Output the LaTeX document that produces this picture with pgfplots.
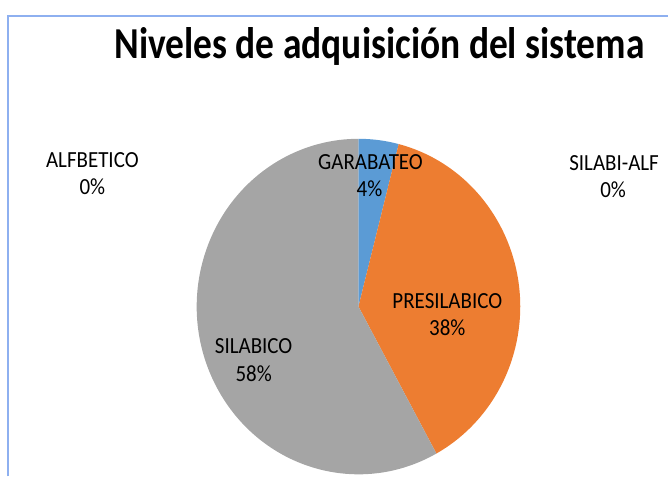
\documentclass[border=0pt]{standalone}
\usepackage{fontspec}
\setmainfont{Carlito}
\usepackage{graphicx}
\usepackage{pgfplots}
\pgfplotsset{compat=1.18}
\definecolor{cgar}{HTML}{5B9BD5}
\definecolor{cpre}{HTML}{ED7D31}
\definecolor{csil}{HTML}{A5A5A5}
\definecolor{cframe}{HTML}{8EB0F0}
% slice: colour, start angle, percentage
\newcommand\slice[3]{\fill[#1] (axis cs:359,170) -- ++({#2}:162pt and 168pt) arc[start angle={#2}, delta angle={-3.6*#3}, x radius=162pt, y radius=168pt] -- cycle;}
\newcommand\lab{\fontsize{21}{25}\selectfont}
\newcommand\st[1]{\scalebox{1}[1.1]{#1}}
\begin{document}
\begin{tikzpicture}
\begin{axis}[x=1pt,y=1pt,xmin=0,xmax=669,ymin=0,ymax=477,hide axis,scale only axis,clip=false]
\path (axis cs:0,0) rectangle (axis cs:669,477);
\addplot[cframe, line width=2pt] coordinates {(8.5,0) (8.5,461) (669,461)};
% pie: GARABATEO 4, PRESILABICO 38, SILABICO 58, SILABI-ALF 0, ALFBETICO 0
\slice{cgar}{90}{4}
\slice{cpre}{90-3.6*4}{38}
\slice{csil}{90-3.6*42}{58}
% title
\node[anchor=base, font=\fontsize{37.5}{45}\selectfont\bfseries] at (axis cs:380,418) {\scalebox{1}[1.18]{Niveles de adquisición del sistema}};
% labels
\node[anchor=base, font=\lab] at (axis cs:371,307) {\st{GARABATEO}};
\node[anchor=base, font=\lab] at (axis cs:370,280) {\st{4\%}};
\node[anchor=base, font=\lab] at (axis cs:448,168) {\st{PRESILABICO}};
\node[anchor=base, font=\lab] at (axis cs:448,141) {\st{38\%}};
\node[anchor=base, font=\lab] at (axis cs:254,123) {\st{SILABICO}};
\node[anchor=base, font=\lab] at (axis cs:254,95) {\st{58\%}};
\node[anchor=base, font=\lab] at (axis cs:92.5,309) {\st{ALFBETICO}};
\node[anchor=base, font=\lab] at (axis cs:92.5,282) {\st{0\%}};
\node[anchor=base, font=\lab] at (axis cs:615,306) {\st{SILABI-ALF}};
\node[anchor=base, font=\lab] at (axis cs:614,279) {\st{0\%}};
\end{axis}
\end{tikzpicture}
\end{document}
